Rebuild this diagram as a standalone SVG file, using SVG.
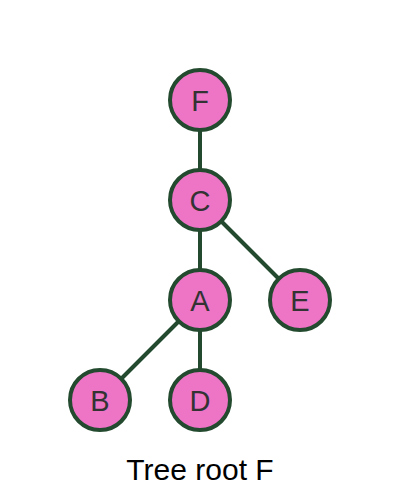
<svg xmlns="http://www.w3.org/2000/svg" width="400" height="500" viewBox="0 0 400 500">
<style>
.n circle{fill:#ee74c6;stroke:#234a2e;stroke-width:4}
.n text{font-family:"Liberation Sans",Arial,sans-serif;font-size:29px;fill:#333;text-anchor:middle}
.e line{stroke:#234a2e;stroke-width:4}
</style>
<rect width="400" height="500" fill="#fff"/>
<g id="edges" class="e">
<line x1="200" y1="100" x2="200" y2="200"/>
<line x1="200" y1="200" x2="200" y2="300"/>
<line x1="200" y1="200" x2="300" y2="300"/>
<line x1="200" y1="300" x2="100" y2="400"/>
<line x1="200" y1="300" x2="200" y2="400"/>
</g>
<g id="F" class="n"><circle cx="200" cy="100" r="30"/><text x="200" y="110.5">F</text></g>
<g id="C" class="n"><circle cx="200" cy="200" r="30"/><text x="200" y="210.5">C</text></g>
<g id="A" class="n"><circle cx="200" cy="300" r="30"/><text x="200" y="310.5">A</text></g>
<g id="E" class="n"><circle cx="300" cy="300" r="30"/><text x="300" y="310.5">E</text></g>
<g id="B" class="n"><circle cx="100" cy="400" r="30"/><text x="100" y="410.5">B</text></g>
<g id="D" class="n"><circle cx="200" cy="400" r="30"/><text x="200" y="410.5">D</text></g>
<text x="200" y="480" font-family="Liberation Sans,Arial,sans-serif" font-size="30" fill="#000" text-anchor="middle">Tree root F</text>
</svg>
